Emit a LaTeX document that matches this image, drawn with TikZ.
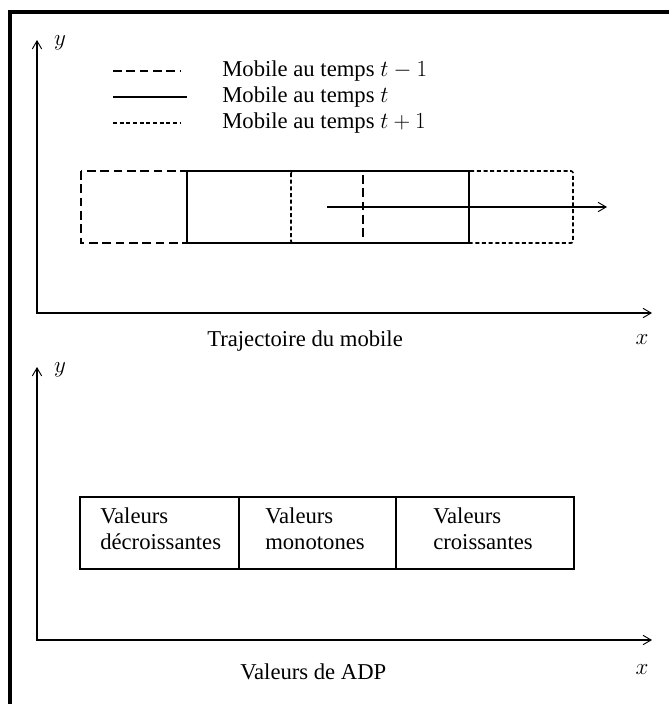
\documentclass[tikz,border=0pt]{standalone}
\usepackage{fontspec}
\setmainfont{Liberation Serif}
\usepackage{tikz}
\usetikzlibrary{arrows.meta}

\tikzset{
  axis/.style={line width=1.2pt,{Straight Barb[length=6pt,width=7pt,line width=0.7pt]}-{Straight Barb[length=6pt,width=7pt,line width=0.7pt]}},
  move/.style={line width=1.2pt,-{Straight Barb[length=6pt,width=7pt,line width=0.7pt]}},
  prevline/.style={line width=1.2pt,dash pattern=on 6.5pt off 3.5pt},
  curline/.style={line width=1.2pt},
  nextline/.style={line width=1.2pt,dash pattern=on 3pt off 2pt},
  lbl/.style={inner sep=0pt,font=\fontsize{17}{20}\selectfont},
  valbox/.style={draw,line width=1.2pt},
}

\begin{document}
\begin{tikzpicture}[x=0.75pt,y=0.75pt,yscale=-1,xscale=1]
\useasboundingbox (0,0) rectangle (669,704);

% Frame
\draw [line width=3pt] (10,704) -- (10,12) -- (669,12) ;

% Axes (trajectoire)
\coordinate (oT) at (37,313);
\coordinate (yT) at (37,40);
\coordinate (xT) at (652,313);
\draw [axis] (yT) -- (oT) -- (xT) ;
% Text Node
\node [lbl] (labyT) at (60,43) {$y$};
% Text Node
\node [lbl,anchor=base] (labxT) at (642,344) {$x$};
% Text Node
\node [lbl,anchor=base west] (titleT) at (207,346) {Trajectoire du mobile};

% Legend
\draw [prevline] (113,71) -- (180,71) ;
\draw [curline] (113,97) -- (187,97) ;
\draw [nextline] (113,123) -- (180,123) ;
% Text Node
\node [lbl,anchor=base west] (legprev) at (222,76) {Mobile au temps $t-1$};
% Text Node
\node [lbl,anchor=base west] (legcur) at (222,102) {Mobile au temps $t$};
% Text Node
\node [lbl,anchor=base west] (legnext) at (222,128) {Mobile au temps $t+1$};

% Mobile positions
\draw [prevline] (81,171) rectangle (363,243) ;
\draw [nextline,rounded corners=1.5pt] (291,171) rectangle (573,243) ;
\draw [curline] (187,171) rectangle (469,243) ;
% Connection
\coordinate (mvA) at (327,207);
\coordinate (mvB) at (607,207);
\draw [move] (mvA) -- (mvB) ;

% Axes (ADP)
\coordinate (oV) at (37,640);
\coordinate (yV) at (37,367);
\coordinate (xV) at (652,640);
\draw [axis] (yV) -- (oV) -- (xV) ;
% Text Node
\node [lbl] (labyV) at (60,370) {$y$};
% Text Node
\node [lbl,anchor=base] (labxV) at (642,674) {$x$};
% Text Node
\node [lbl,anchor=base west] (titleV) at (240,679) {Valeurs de ADP};

% Value boxes
\draw [valbox] (80,497) rectangle (239,569) ;
\draw [valbox] (239,497) rectangle (396,569) ;
\draw [valbox] (396,497) rectangle (574,569) ;
% Text Node
\node [lbl,anchor=north west,align=left] (decr) at (100,507) {Valeurs\\décroissantes};
% Text Node
\node [lbl,anchor=north west,align=left] (mono) at (265,507) {Valeurs\\monotones};
% Text Node
\node [lbl,anchor=north west,align=left] (cro) at (433,507) {Valeurs\\croissantes};

\end{tikzpicture}
\end{document}
